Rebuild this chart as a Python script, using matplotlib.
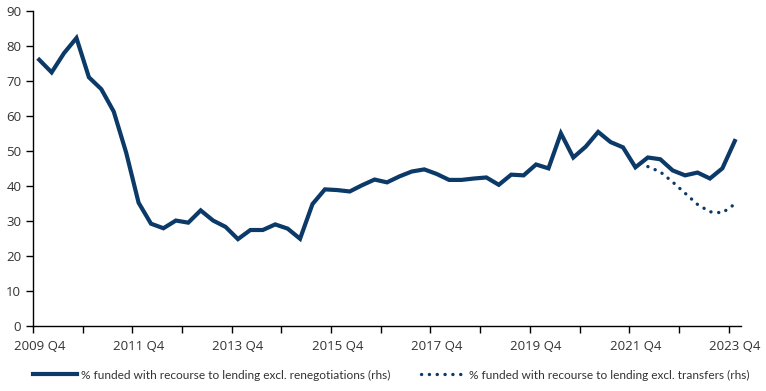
import numpy as np
import matplotlib
matplotlib.use("Agg")
import matplotlib.pyplot as plt
from matplotlib.ticker import FixedLocator, NullFormatter

# quarterly, 2009 Q4 .. 2023 Q4
quarters = [f"{y} Q{q}" for y in range(2009, 2024) for q in range(1, 5)][3:]
excl_renegotiations = [
    76.0, 72.4, 77.9, 82.2, 71.0, 67.6, 61.2, 49.5, 35.2, 29.2,
    27.9, 30.1, 29.5, 33.0, 30.1, 28.3, 24.8, 27.4, 27.4, 29.0,
    27.8, 24.9, 34.8, 39.0, 38.8, 38.4, 40.2, 41.8, 41.0, 42.7,
    44.1, 44.7, 43.4, 41.7, 41.7, 42.1, 42.4, 40.3, 43.2, 43.0,
    46.1, 45.0, 55.0, 48.1, 51.2, 55.4, 52.5, 51.0, 45.3, 48.1,
    47.6, 44.4, 43.0, 43.8, 42.1, 45.0, 52.8,
]
# transfers series only from 2022 Q1
excl_transfers_start = 49
excl_transfers = [45.5, 44.0, 41.1, 37.9, 34.7, 32.6, 32.3, 34.8]

navy = "#0b3a68"
plt.rcParams["font.family"] = ["Open Sans", "DejaVu Sans"]

fig = plt.figure(figsize=(7.66, 3.91), dpi=100)
ax = fig.add_axes([33 / 766, 65 / 391, (741 - 33) / 766, (326 - 10.7) / 391])

x = np.arange(len(quarters))
ax.plot(x, excl_renegotiations, color=navy, lw=3, solid_joinstyle="miter",
        label="% funded with recourse to lending excl. renegotiations (rhs)")
xt = np.arange(excl_transfers_start, excl_transfers_start + len(excl_transfers))
ax.plot(xt, excl_transfers, color=navy, lw=2.4, linestyle=(0, (0.05, 2.3)),
        dash_capstyle="round",
        label="% funded with recourse to lending excl. transfers (rhs)")

ax.set_xlim(-0.5, len(quarters) - 0.5)
ax.set_ylim(0, 90)
ax.set_yticks(range(0, 91, 10))

# labels at every 8th quarter, tick marks between categories every 4th
ax.set_xticks(x[::8])
ax.set_xticklabels(quarters[::8])
ax.tick_params(axis="x", which="major", length=0, pad=10)
ax.xaxis.set_minor_locator(FixedLocator(np.arange(-0.5, len(quarters) - 1, 4)))
ax.xaxis.set_minor_formatter(NullFormatter())
ax.tick_params(axis="x", which="minor", length=5, width=1, color="black")
ax.tick_params(axis="y", length=5, width=1, color="black")
ax.tick_params(labelsize=9.5, labelcolor="#333333")

for s in ["top", "right"]:
    ax.spines[s].set_visible(False)
for s in ["left", "bottom"]:
    ax.spines[s].set_color("black")
    ax.spines[s].set_linewidth(1)

leg = fig.legend(loc="center", bbox_to_anchor=(391 / 766, 16 / 391), ncol=2,
                 frameon=False, handlelength=3.7, handletextpad=0.3,
                 columnspacing=2.6,
                 prop={"family": ["Lato", "DejaVu Sans"], "size": 8.6})
for t in leg.get_texts():
    t.set_color("#333333")

fig.savefig("out.png", dpi=100)
